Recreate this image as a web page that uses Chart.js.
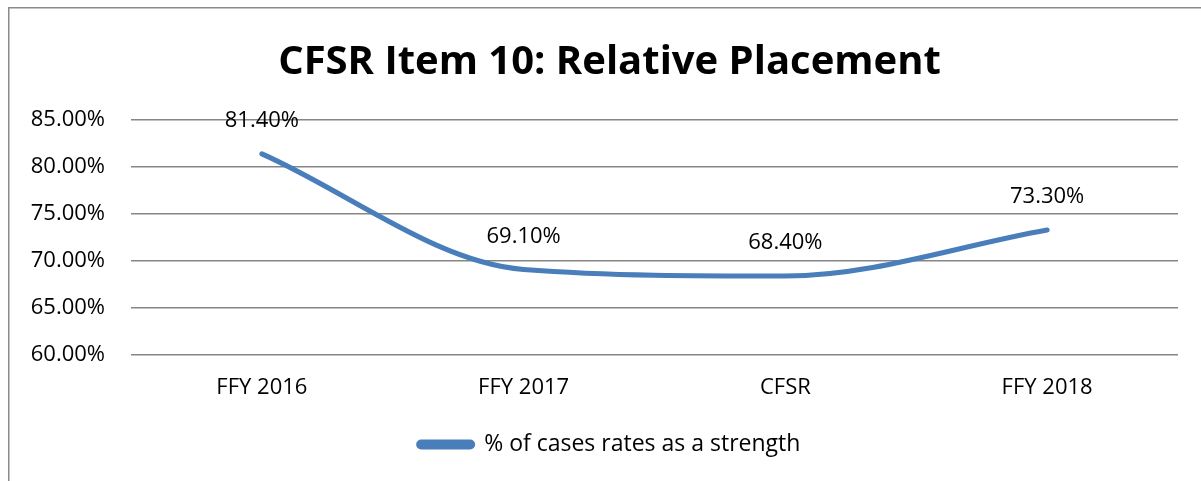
<!DOCTYPE html>
<html>
<head>
<meta charset="utf-8">
<script src="https://cdn.jsdelivr.net/npm/chart.js@4.4.0/dist/chart.umd.min.js"></script>
<style>
  html, body { margin: 0; padding: 0; background: #fff; }
  #wrap { position: relative; width: 1201px; height: 481px; }
</style>
</head>
<body>
<div id="wrap"><canvas id="c" width="1201" height="481"></canvas></div>
<script>
const categories = ['FFY 2016', 'FFY 2017', 'CFSR', 'FFY 2018'];
const seriesName = '% of cases rates as a strength';
const seriesValues = [81.4, 69.1, 68.4, 73.3];
const yTicks = [60, 65, 70, 75, 80, 85];
const titleText = 'CFSR Item 10: Relative Placement';

const FONT = "'Open Sans', 'DejaVu Sans', sans-serif";
const BLUE = '#4A7EBB';

const framePlugin = {
  id: 'frame',
  beforeDraw(chart) {
    const ctx = chart.ctx;
    ctx.save();
    ctx.fillStyle = '#fff';
    ctx.fillRect(0, 0, chart.width, chart.height);
    ctx.strokeStyle = '#8a8a8a';
    ctx.lineWidth = 1.5;
    ctx.beginPath();
    ctx.moveTo(8.75, chart.height);
    ctx.lineTo(8.75, 7.75);
    ctx.lineTo(chart.width, 7.75);
    ctx.stroke();
    ctx.restore();
  }
};

const labelPlugin = {
  id: 'valueLabels',
  afterDatasetsDraw(chart) {
    const ctx = chart.ctx;
    const meta = chart.getDatasetMeta(0);
    const data = chart.data.datasets[0].data;
    ctx.save();
    ctx.font = "22px " + FONT;
    ctx.fillStyle = '#000';
    ctx.textAlign = 'center';
    ctx.textBaseline = 'middle';
    meta.data.forEach((pt, i) => {
      ctx.fillText(data[i].toFixed(2) + '%', pt.x, pt.y - 33);
    });
    ctx.restore();
  }
};

new Chart(document.getElementById('c'), {
  type: 'line',
  data: {
    labels: categories,
    datasets: [{
      label: seriesName,
      data: seriesValues,
      borderColor: BLUE,
      backgroundColor: BLUE,
      borderWidth: 5,
      pointRadius: 0,
      pointHoverRadius: 0,
      cubicInterpolationMode: 'monotone',
      borderCapStyle: 'round',
      borderJoinStyle: 'round',
      fill: false
    }]
  },
  options: {
    responsive: false,
    animation: false,
    devicePixelRatio: 1,
    layout: { padding: { left: 18, right: 0, top: 0, bottom: 15 } },
    plugins: {
      title: {
        display: true,
        text: titleText,
        color: '#000',
        font: { family: FONT, size: 40, weight: 'bold', lineHeight: 1.2 },
        padding: { top: 39, bottom: 33 }
      },
      legend: {
        display: true,
        position: 'bottom',
        labels: {
          color: '#000',
          font: { family: FONT, size: 23 },
          boxWidth: 54,
          boxHeight: 5,
          useBorderRadius: true,
          borderRadius: 2.5,
          padding: 10
        }
      },
      tooltip: { enabled: false }
    },
    scales: {
      x: {
        type: 'category',
        offset: true,
        grid: { display: false, drawTicks: false },
        border: { display: false },
        ticks: { color: '#000', font: { family: FONT, size: 22 }, padding: 20, maxRotation: 0 },
        afterFit(scale) { scale.height = 68; }
      },
      y: {
        min: 60,
        max: 85,
        grid: { color: '#868686', lineWidth: 1.5, drawTicks: false },
        border: { display: false },
        afterBuildTicks(scale) { scale.ticks = yTicks.map(v => ({ value: v })); },
        ticks: {
          color: '#000',
          font: { family: FONT, size: 22 },
          padding: 26,
          callback: (v) => Number(v).toFixed(2) + '%'
        },
        afterFit(scale) { scale.width = 113; }
      },
      yRight: {
        position: 'right',
        min: 60,
        max: 85,
        grid: { display: false, drawTicks: false },
        border: { display: false },
        ticks: { display: false },
        afterFit(scale) { scale.width = 23; }
      }
    }
  },
  plugins: [framePlugin, labelPlugin]
});
</script>
</body>
</html>
